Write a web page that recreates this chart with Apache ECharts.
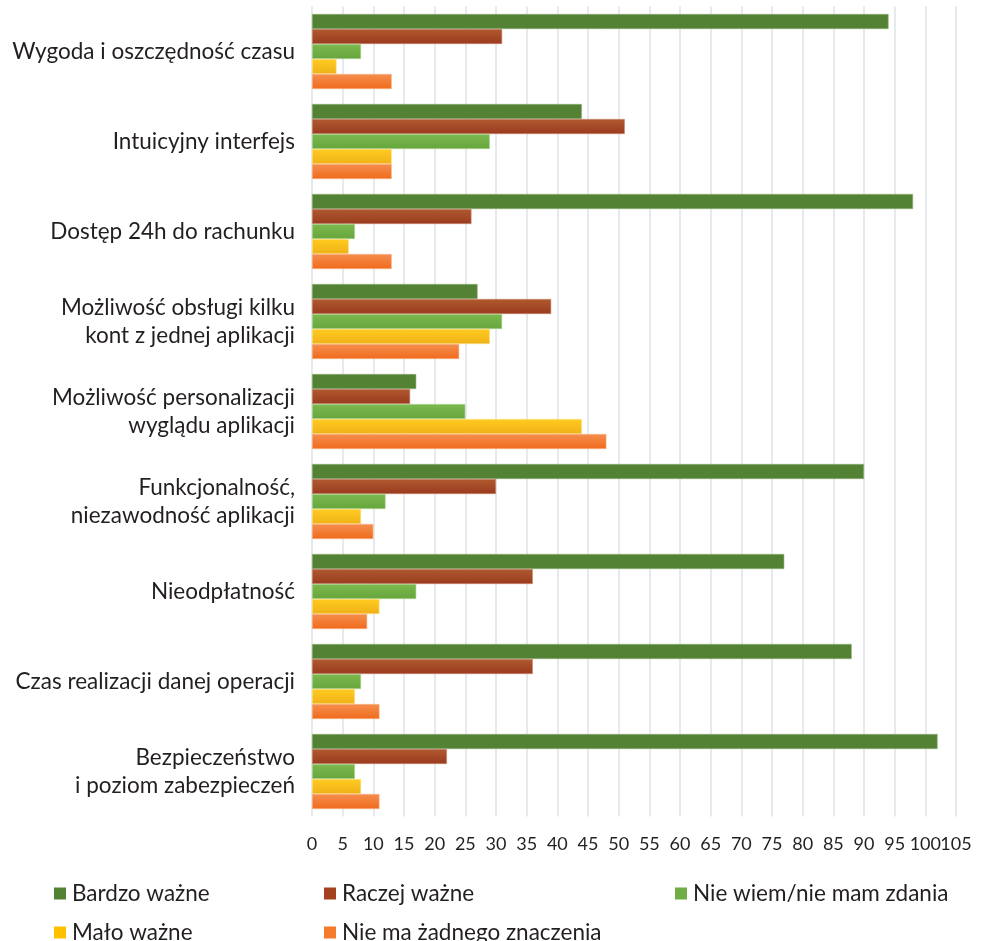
<!DOCTYPE html>
<html>
<head>
<meta charset="utf-8">
<script src="https://cdn.jsdelivr.net/npm/echarts@6/dist/echarts.min.js"></script>
<style>html,body{margin:0;padding:0;background:#fff}#c{width:982px;height:941px}</style>
</head>
<body>
<div id="c"></div>
<script>
const categories = [
  'Wygoda i oszczędność czasu',
  'Intuicyjny interfejs',
  'Dostęp 24h do rachunku',
  'Możliwość obsługi kilku\nkont z jednej aplikacji',
  'Możliwość personalizacji\nwyglądu aplikacji',
  'Funkcjonalność,\nniezawodność aplikacji',
  'Nieodpłatność',
  'Czas realizacji danej operacji',
  'Bezpieczeństwo\ni poziom zabezpieczeń'
];
const seriesNames = ['Bardzo ważne', 'Raczej ważne', 'Nie wiem/nie mam zdania', 'Mało ważne', 'Nie ma żadnego znaczenia'];
const bardzoWazne = [94, 44, 98, 27, 17, 90, 77, 88, 102];
const raczejWazne = [31, 51, 26, 39, 16, 30, 36, 36, 22];
const nieWiem = [8, 29, 7, 31, 25, 12, 17, 8, 7];
const maloWazne = [4, 13, 6, 29, 44, 8, 11, 7, 8];
const nieMaZnaczenia = [13, 13, 13, 24, 48, 10, 9, 11, 11];
const xTicks = [0, 105, 5];

const FONT = 'Lato';
const TXT = '#231f20';

function grad(top, bottom) {
  return new echarts.graphic.LinearGradient(0, 0, 0, 1, [{offset: 0, color: top}, {offset: 1, color: bottom}]);
}
const colors = [
  {solid: '#548235', fill: '#548235', border: '#8fb077'},
  {solid: '#a4421f', fill: grad('#b05a30', '#9a3a1e'), border: '#c98a70'},
  {solid: '#70ad47', fill: grad('#7cb94e', '#66a63c'), border: '#b5d99c'},
  {solid: '#ffc000', fill: grad('#ffcb20', '#efb118'), border: '#ffe08a'},
  {solid: '#f47b2c', fill: grad('#f58e4e', '#ef6b1c'), border: '#f8b48a'}
];
const values = [bardzoWazne, raczejWazne, nieWiem, maloWazne, nieMaZnaczenia];

const chart = echarts.init(document.getElementById('c'), null, {renderer: 'canvas'});
const series = seriesNames.map((n, i) => ({
  name: n,
  type: 'bar',
  data: values[i],
  barWidth: 15,
  barGap: '0%',
  barCategoryGap: '16.7%',
  itemStyle: {color: colors[i].fill, borderColor: colors[i].border, borderWidth: 0.6},
  emphasis: {disabled: true}
}));
const legendPos = [
  {left: 54, top: 882},
  {left: 324, top: 882},
  {left: 675, top: 882},
  {left: 54, top: 921},
  {left: 324, top: 921}
];
const legends = seriesNames.map((n, i) => ({
  data: [{name: n, itemStyle: {color: colors[i].solid, borderWidth: 0}}],
  left: legendPos[i].left,
  top: legendPos[i].top,
  itemWidth: 12,
  itemHeight: 12,
  icon: 'rect',
  padding: 0,
  selectedMode: false,
  textStyle: {fontFamily: FONT, fontSize: 22.5, color: TXT, padding: [0, 0, 0, 1]}
}));

const axisLabelStyle = {fontFamily: FONT, fontSize: 18, color: TXT, margin: 19, hideOverlap: false};

chart.setOption({
  animation: false,
  backgroundColor: '#ffffff',
  legend: legends,
  grid: {left: 312, right: 26, top: 6.5, bottom: 124.5, containLabel: false},
  xAxis: [{
    type: 'value',
    min: xTicks[0], max: xTicks[1], interval: xTicks[2],
    axisLine: {show: false},
    axisTick: {show: false},
    splitLine: {show: true, lineStyle: {color: '#dde3ea', width: 1.5}},
    axisLabel: Object.assign({showMinLabel: true, showMaxLabel: false}, axisLabelStyle)
  }, {
    // carries only the last tick label (xTicks max), which the first axis drops because it touches "100"
    type: 'value',
    position: 'bottom',
    min: xTicks[0], max: xTicks[1], interval: xTicks[1],
    axisLine: {show: false},
    axisTick: {show: false},
    splitLine: {show: false},
    axisLabel: Object.assign({showMinLabel: false, showMaxLabel: true,
      formatter: v => (v === xTicks[1] ? String(v) : '')}, axisLabelStyle)
  }],
  yAxis: {
    type: 'category',
    data: categories,
    inverse: true,
    axisLine: {show: false},
    axisTick: {show: false},
    splitLine: {show: false},
    axisLabel: {fontFamily: FONT, fontSize: 22.5, color: TXT, margin: 17, lineHeight: 28, align: 'right', interval: 0}
  },
  series: series
});
</script>
</body>
</html>
